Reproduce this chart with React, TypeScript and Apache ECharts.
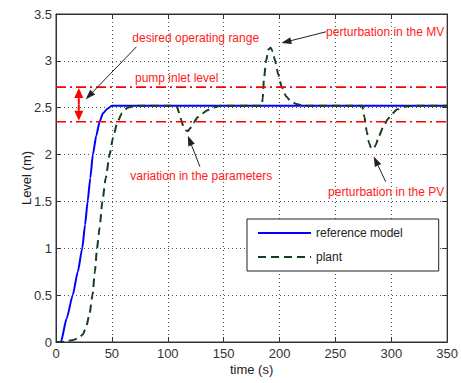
import React, { useEffect, useRef } from "react";
import * as echarts from "echarts";

// ---- data ----
const refTime = [0, 4.4, 9.5, 15, 19.5, 23.5, 26, 28.3, 30.7, 33, 36, 39, 42, 46, 50, 55, 350];
const refLevel = [0, 0, 0.25, 0.5, 0.75, 1.0, 1.25, 1.5, 1.75, 2.0, 2.2, 2.35, 2.44, 2.49, 2.52, 2.52, 2.52];

const plantTime = [
  0, 5, 10, 15, 20, 24, 27, 30, 32.6, 34.8, 36.7, 39, 41.5, 44.5, 48, 51, 55, 59, 64, 70,
  108, 110, 112, 114, 116, 118, 120, 123, 127, 131, 135, 140, 147,
  184, 185, 186, 188, 190, 192, 194, 196, 199, 202, 206, 210, 215, 222,
  274, 276, 278, 280, 282, 284, 286, 289, 293, 297, 301, 305, 312, 320, 350,
];
const plantLevel = [
  0, 0, 0.01, 0.02, 0.04, 0.08, 0.16, 0.3, 0.5, 0.75, 1.0, 1.22, 1.5, 1.75, 2.0, 2.18, 2.35, 2.44, 2.5, 2.52,
  2.52, 2.45, 2.37, 2.3, 2.26, 2.25, 2.28, 2.34, 2.4, 2.44, 2.47, 2.5, 2.52,
  2.52, 2.6, 2.8, 3.0, 3.12, 3.14, 3.1, 3.0, 2.85, 2.72, 2.62, 2.57, 2.54, 2.52,
  2.52, 2.4, 2.25, 2.13, 2.07, 2.06, 2.1, 2.2, 2.3, 2.38, 2.44, 2.48, 2.51, 2.52, 2.52,
];

const pumpInletLevel = 2.72;
const lowerLevel = 2.35;
const timeRange = [0, 350];
const seriesNames = ["reference model", "plant"];

// annotation anchors in data coordinates [time, level]
const annotations = [
  { text: "desired operating range", at: [125, 3.245], arrowFrom: [72, 3.15], arrowTo: [26.6, 2.59] },
  { text: "pump inlet level", at: [108, 2.817] },
  { text: "perturbation in the MV", at: [294.5, 3.31], arrowFrom: [241.6, 3.31], arrowTo: [201.7, 3.19] },
  { text: "variation in the parameters", at: [130, 1.77], arrowFrom: [128.8, 1.87], arrowTo: [118, 2.2] },
  { text: "perturbation in the PV", at: [295.4, 1.6], arrowFrom: [295, 1.71], arrowTo: [284.3, 1.98] },
];
const rangeArrowTime = 20.4;

const FONT = "'Liberation Sans', Arial, Helvetica, sans-serif";
const AX = "#333";

function zip(a: number[], b: number[]) {
  return a.map((t, i) => [t, b[i]]);
}

function arrow(from: number[], to: number[], color: string, headLen: number, headW: number, lw: number) {
  const [x1, y1] = from;
  const [x2, y2] = to;
  const ang = Math.atan2(y2 - y1, x2 - x1);
  const bx = x2 - headLen * Math.cos(ang);
  const by = y2 - headLen * Math.sin(ang);
  const nx = -Math.sin(ang) * headW;
  const ny = Math.cos(ang) * headW;
  return [
    { type: "line", silent: true, z: 100, shape: { x1, y1, x2: bx, y2: by }, style: { stroke: color, lineWidth: lw } },
    {
      type: "polygon",
      silent: true,
      z: 100,
      shape: { points: [[x2, y2], [bx + nx, by + ny], [bx - nx, by - ny]] },
      style: { fill: color },
    },
  ];
}

export default function App() {
  const ref = useRef<HTMLDivElement>(null);

  useEffect(() => {
    if (!ref.current) return;
    const chart = echarts.init(ref.current, undefined, { renderer: "svg" });

    const axisCommon = {
      type: "value" as const,
      axisLine: { show: true, onZero: false, lineStyle: { color: AX, width: 1 } },
      axisTick: { show: true, inside: true, length: 5, lineStyle: { color: AX } },
    };

    const limitLine = (v: number) => ({
      type: "line",
      data: [[timeRange[0], v], [timeRange[1], v]],
      symbol: "none",
      silent: true,
      z: 5,
      lineStyle: { color: "#ff0000", width: 1.6, type: [10, 4, 2, 4] },
    });

    chart.setOption({
      animation: false,
      backgroundColor: "#fff",
      grid: { left: 56, right: 11, top: 14, bottom: 41, show: true, borderColor: AX, borderWidth: 1 },
      xAxis: [
        {
          ...axisCommon,
          min: timeRange[0],
          max: timeRange[1],
          interval: 50,
          position: "bottom",
          name: "time (s)",
          nameLocation: "middle",
          nameGap: 21,
          nameMoveOverlap: false,
          nameTextStyle: { color: "#222", fontSize: 13, fontFamily: FONT },
          axisLabel: { color: "#333", fontSize: 13, fontFamily: FONT, margin: 5 },
          splitLine: { show: true, lineStyle: { color: "#555", width: 1, type: [1, 3] } },
        },
        {
          ...axisCommon,
          min: timeRange[0],
          max: timeRange[1],
          interval: 50,
          position: "top",
          axisLabel: { show: false },
          splitLine: { show: false },
        },
      ],
      yAxis: [
        {
          ...axisCommon,
          min: 0,
          max: 3.5,
          interval: 0.5,
          position: "left",
          name: "Level (m)",
          nameLocation: "middle",
          nameGap: 23,
          nameMoveOverlap: false,
          nameTextStyle: { color: "#222", fontSize: 13, fontFamily: FONT },
          axisLabel: { color: "#333", fontSize: 13, fontFamily: FONT, margin: 4 },
          splitLine: { show: true, lineStyle: { color: "#555", width: 1, type: [1, 3] } },
        },
        {
          ...axisCommon,
          min: 0,
          max: 3.5,
          interval: 0.5,
          position: "right",
          axisLabel: { show: false },
          splitLine: { show: false },
        },
      ],
      legend: {
        data: seriesNames,
        orient: "vertical",
        left: 247,
        top: 219,
        itemWidth: 53,
        itemHeight: 12,
        itemGap: 12,
        padding: [8, 36, 8, 10],
        borderColor: "#222",
        borderWidth: 1,
        backgroundColor: "#fff",
        itemStyle: { opacity: 0 },
        textStyle: { color: "#222", fontSize: 12, fontFamily: FONT },
      },
      series: [
        {
          name: seriesNames[0],
          type: "line",
          data: zip(refTime, refLevel),
          symbol: "none",
          showSymbol: false,
          smooth: 0.2,
          smoothMonotone: "x",
          z: 3,
          itemStyle: { color: "#0000ff" },
          lineStyle: { color: "#0000ff", width: 2 },
        },
        {
          name: seriesNames[1],
          type: "line",
          data: zip(plantTime, plantLevel),
          symbol: "none",
          showSymbol: false,
          smooth: 0.2,
          smoothMonotone: "x",
          z: 4,
          itemStyle: { color: "#173d1f" },
          lineStyle: { color: "#173d1f", width: 2, type: [8, 5] },
        },
        limitLine(pumpInletLevel),
        limitLine(lowerLevel),
      ],
    });

    const px = (p: number[]) => chart.convertToPixel({ xAxisIndex: 0, yAxisIndex: 0 }, p) as number[];
    const elements: any[] = [];
    annotations.forEach((a) => {
      const c = px(a.at);
      elements.push({
        type: "text",
        silent: true,
        z: 100,
        style: {
          text: a.text,
          x: c[0],
          y: c[1],
          fill: "#ff2020",
          font: `12px ${FONT}`,
          align: "center",
          verticalAlign: "middle",
        },
      });
      if (a.arrowFrom && a.arrowTo) {
        elements.push(...arrow(px(a.arrowFrom), px(a.arrowTo), "#222", 10, 3.5, 1));
      }
    });
    const top = px([rangeArrowTime, pumpInletLevel]);
    const bot = px([rangeArrowTime, lowerLevel]);
    const mid = [(top[0] + bot[0]) / 2, (top[1] + bot[1]) / 2];
    elements.push(...arrow(mid, [top[0], top[1] + 1], "#ff0000", 10, 4.5, 2));
    elements.push(...arrow(mid, [bot[0], bot[1] - 1], "#ff0000", 10, 4.5, 2));
    chart.setOption({ graphic: { elements } });

    return () => chart.dispose();
  }, []);

  return <div ref={ref} style={{ position: "absolute", left: 0, top: 0, width: 461, height: 383 }} />;
}
